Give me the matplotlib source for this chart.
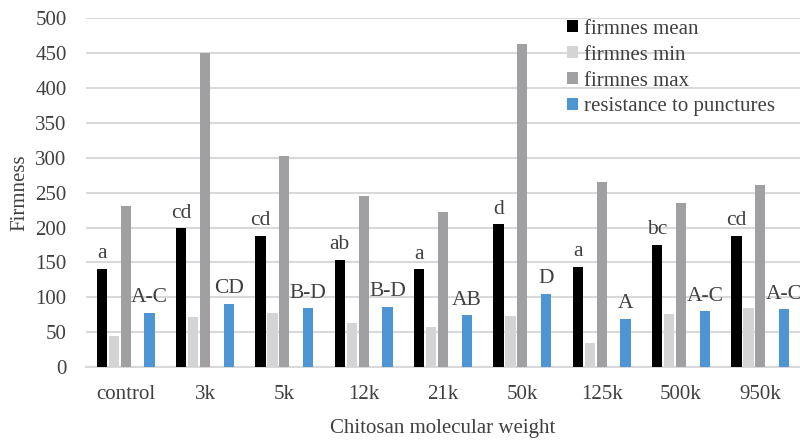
import matplotlib.pyplot as plt
import numpy as np

plt.rcParams['font.family'] = ['Liberation Serif', 'DejaVu Serif']

categories = ['control', '3k', '5k', '12k', '21k', '50k', '125k', '500k', '950k']
firm_mean = [141, 199, 188, 154, 140, 205, 144, 175, 188]
firm_min = [44, 71, 77, 63, 57, 73, 35, 76, 85]
firm_max = [231, 450, 302, 245, 223, 463, 266, 235, 261]
puncture = [78, 91, 84, 86, 74, 105, 69, 80, 83]
mean_letters = ['a', 'cd', 'cd', 'ab', 'a', 'd', 'a', 'bc', 'cd']
puncture_letters = ['A-C', 'CD', 'B-D', 'B-D', 'AB', 'D', 'A', 'A-C', 'A-C']

txt = '#404040'

fig = plt.figure(figsize=(8, 4.4), dpi=100)
ax = fig.add_axes([0.1075, 0.166, 0.8925, 0.792])

x = np.arange(len(categories))
slot = 0.151
w = 0.13
ax.bar(x - 2 * slot, firm_mean, w, color='#000000', label='firmnes mean', zorder=3)
ax.bar(x - slot, firm_min, w, color='#d4d4d4', label='firmnes min', zorder=3)
ax.bar(x, firm_max, w, color='#a0a0a2', label='firmnes max', zorder=3)
ax.bar(x + 2 * slot, puncture, w, color='#4e96d3', label='resistance to punctures', zorder=3)

# significance letters above the mean and puncture bars
for i in range(len(categories)):
    ax.annotate(mean_letters[i], (x[i] - 2 * slot, firm_mean[i]), xytext=(0, 4),
                textcoords='offset points', ha='center', va='bottom', fontsize=15.5,
                color=txt, annotation_clip=False)
    ax.annotate(puncture_letters[i], (x[i] + 2 * slot, puncture[i]), xytext=(0, 4),
                textcoords='offset points', ha='center', va='bottom', fontsize=15.5,
                color=txt, annotation_clip=False)

ax.set_xlim(-0.5, len(categories) - 0.5)
ax.set_ylim(0, 500)
ax.set_yticks(range(0, 501, 50))
ax.set_xticks(x)
ax.set_xticklabels(categories)
ax.tick_params(length=0, labelsize=15, colors=txt)
ax.tick_params(axis='x', pad=13)
ax.tick_params(axis='y', pad=14)
ax.grid(axis='y', color='#d9d9d9', linewidth=1.5, zorder=0)
for s in ['top', 'right', 'left']:
    ax.spines[s].set_visible(False)
ax.spines['bottom'].set_color('#d9d9d9')
ax.spines['bottom'].set_linewidth(1.5)

ax.set_xlabel('Chitosan molecular weight', fontsize=15, color=txt, labelpad=11)
ax.set_ylabel('Firmness', fontsize=15, color=txt, labelpad=4)

ax.legend(loc='upper left', bbox_to_anchor=(0.648, 1.05), frameon=False, fontsize=15,
          handlelength=0.5, handleheight=0.5, handletextpad=0.3, labelspacing=0.33,
          labelcolor=txt)

fig.savefig('out.png', dpi=100)
